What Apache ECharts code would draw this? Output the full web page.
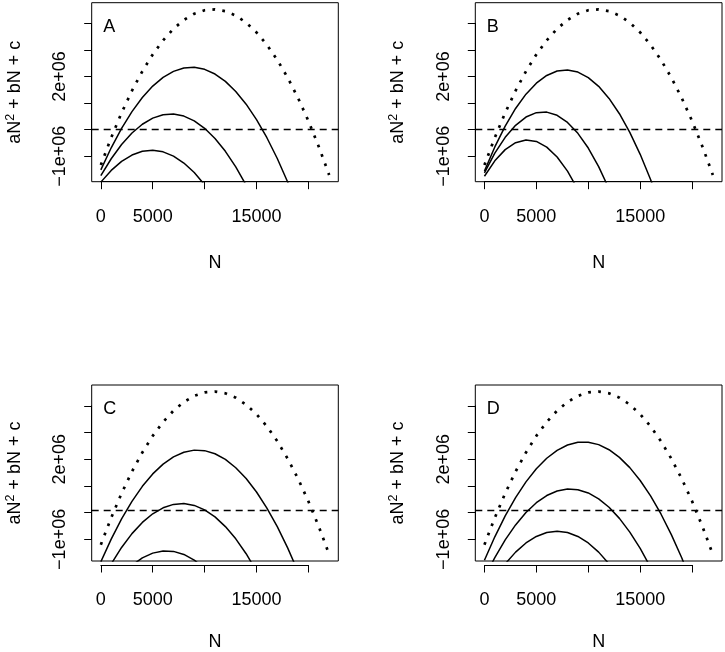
<!DOCTYPE html>
<html>
<head>
<meta charset="utf-8">
<script src="https://cdn.jsdelivr.net/npm/echarts@6/dist/echarts.min.js"></script>
<style>html,body{margin:0;padding:0;background:#fff}#c{width:725px;height:652px}</style>
</head>
<body>
<div id="c"></div>
<script>
// ---- data ----
const N = [0,1000,2000,3000,4000,5000,6000,7000,8000,9000,10000,11000,12000,13000,14000,15000,16000,17000,18000,19000,20000,21000,22000];

// upper dotted curve (same in every panel)
const upper = [-1.334e6,-0.301e6,0.632e6,1.465e6,2.198e6,2.831e6,3.364e6,3.797e6,4.130e6,4.363e6,4.496e6,4.529e6,4.462e6,4.295e6,4.028e6,3.661e6,3.194e6,2.627e6,1.960e6,1.193e6,0.326e6,-0.641e6,-1.708e6];

// panel A
const A_high = [-1.516e6,-0.683e6,0.049e6,0.680e6,1.211e6,1.640e6,1.968e6,2.195e6,2.322e6,2.347e6,2.271e6,2.094e6,1.817e6,1.438e6,0.958e6,0.377e6,-0.304e6,-1.087e6,-1.971e6,-2.956e6,null,null,null];
const A_mid  = [-1.734e6,-1.096e6,-0.561e6,-0.127e6,0.204e6,0.434e6,0.561e6,0.587e6,0.510e6,0.332e6,0.051e6,-0.331e6,-0.816e6,-1.402e6,-2.091e6,-2.881e6,null,null,null,null,null,null,null];
const A_low  = [-1.976e6,-1.536e6,-1.196e6,-0.956e6,-0.816e6,-0.776e6,-0.836e6,-0.996e6,-1.256e6,-1.616e6,-2.076e6,-2.636e6,null,null,null,null,null,null,null,null,null,null,null];

// panel B
const B_high = [-1.561e6,-0.651e6,0.135e6,0.798e6,1.336e6,1.750e6,2.040e6,2.206e6,2.248e6,2.167e6,1.961e6,1.631e6,1.177e6,0.599e6,-0.103e6,-0.929e6,-1.878e6,-2.952e6,null,null,null,null,null];
const B_mid  = [-1.628e6,-0.887e6,-0.289e6,0.164e6,0.474e6,0.640e6,0.661e6,0.539e6,0.272e6,-0.138e6,-0.692e6,-1.391e6,-2.233e6,-3.219e6,null,null,null,null,null,null,null,null,null];
const B_low  = [-1.754e6,-1.174e6,-0.752e6,-0.490e6,-0.387e6,-0.442e6,-0.657e6,-1.031e6,-1.563e6,-2.255e6,-3.106e6,null,null,null,null,null,null,null,null,null,null,null,null];

// panel C
const C_high = [-1.991e6,-1.120e6,-0.348e6,0.325e6,0.900e6,1.375e6,1.751e6,2.028e6,2.206e6,2.286e6,2.266e6,2.147e6,1.929e6,1.612e6,1.197e6,0.682e6,0.068e6,-0.645e6,-1.457e6,-2.367e6,null,null,null];
const C_mid  = [-2.802e6,-2.072e6,-1.442e6,-0.912e6,-0.482e6,-0.152e6,0.078e6,0.208e6,0.238e6,0.168e6,-0.002e6,-0.272e6,-0.642e6,-1.112e6,-1.682e6,-2.352e6,-3.122e6,null,null,null,null,null,null];
const C_low  = [null,null,-2.507e6,-2.124e6,-1.841e6,-1.658e6,-1.575e6,-1.592e6,-1.709e6,-1.926e6,-2.243e6,-2.660e6,null,null,null,null,null,null,null,null,null,null,null];

// panel D
const D_high = [-1.933e6,-1.033e6,-0.233e6,0.468e6,1.069e6,1.571e6,1.974e6,2.277e6,2.481e6,2.585e6,2.590e6,2.496e6,2.302e6,2.008e6,1.616e6,1.124e6,0.532e6,-0.159e6,-0.949e6,-1.838e6,-2.827e6,null,null];
const D_mid  = [-2.603e6,-1.828e6,-1.153e6,-0.578e6,-0.103e6,0.272e6,0.547e6,0.722e6,0.797e6,0.772e6,0.647e6,0.422e6,0.097e6,-0.328e6,-0.853e6,-1.478e6,-2.203e6,-3.028e6,null,null,null,null,null];
const D_low  = [null,-2.620e6,-2.070e6,-1.620e6,-1.270e6,-1.020e6,-0.870e6,-0.820e6,-0.870e6,-1.020e6,-1.270e6,-1.620e6,-2.070e6,-2.620e6,null,null,null,null,null,null,null,null,null];

const panelLetters = ['A','B','C','D'];
const xTicks = [0,5000,10000,15000,20000];
const xTickLabels = ['0','5000','','15000',''];
const yTicks = [-1e6,0,1e6,2e6,3e6,4e6];
const yTickLabels = ['\u22121e+06','','','2e+06','',''];
const refLine = [0];

// ---- layout / style ----
const FONT = 'Liberation Sans';
const FS = 18;
const xMin = -880, xMax = 22880, yMin = -1.96e6, yMax = 4.78e6;
const boxes = [
  {l:91.7, t:2.7, w:246.6, h:179},
  {l:475.3, t:2.7, w:246.7, h:179},
  {l:91.7, t:385, w:246.6, h:180},
  {l:475.3, t:385, w:246.7, h:180}
];
const panels = [
  [A_high, A_mid, A_low],
  [B_high, B_mid, B_low],
  [C_high, C_mid, C_low],
  [D_high, D_mid, D_low]
];

function pairs(arr){ return N.map((n,i)=>[n, arr[i]==null ? '-' : arr[i]]); }

const grid=[], xAxis=[], yAxis=[], series=[], title=[];
const txt = {color:'#000', fontFamily:FONT, fontSize:FS};

boxes.forEach((b,p)=>{
  const gBase = grid.length;
  // main box
  grid.push({left:b.l, top:b.t, width:b.w, height:b.h, show:true, borderColor:'#000', borderWidth:1, backgroundColor:'transparent', containLabel:false});
  xAxis.push({gridIndex:gBase, type:'value', min:xMin, max:xMax, axisLine:{show:false}, axisTick:{show:false}, axisLabel:{show:false}, splitLine:{show:false},
    name:'N', nameLocation:'middle', nameGap:72, nameTextStyle:txt});
  yAxis.push({gridIndex:gBase, type:'value', min:yMin, max:yMax, axisLine:{show:false}, axisTick:{show:false}, axisLabel:{show:false}, splitLine:{show:false},
    name:'aN{sup|2} + bN + c', nameLocation:'middle', nameGap:66, nameRotate:90,
    nameTextStyle:Object.assign({}, txt, {lineHeight:22, rich:{sup:{fontFamily:FONT, fontSize:12.5, lineHeight:12, verticalAlign:'top', color:'#000'}}})});
  // x tick axis
  const xl = b.l + (xTicks[0]-xMin)/(xMax-xMin)*b.w;
  const xw = (xTicks[xTicks.length-1]-xTicks[0])/(xMax-xMin)*b.w;
  grid.push({left:xl, top:b.t, width:xw, height:b.h, show:false});
  xAxis.push({gridIndex:gBase+1, type:'value', min:xTicks[0], max:xTicks[xTicks.length-1], interval:5000, position:'bottom', offset:11.5,
    axisLine:{show:true, lineStyle:{color:'#000', width:1}}, axisTick:{show:true, inside:false, length:7.5, lineStyle:{color:'#000', width:1}},
    splitLine:{show:false},
    axisLabel:Object.assign({}, txt, {margin:15, formatter:v=>{const i=xTicks.indexOf(v); return i>=0?xTickLabels[i]:'';}})});
  yAxis.push({gridIndex:gBase+1, type:'value', show:false});
  // y tick axis
  const yt = b.t + (yMax-yTicks[yTicks.length-1])/(yMax-yMin)*b.h;
  const yh = (yTicks[yTicks.length-1]-yTicks[0])/(yMax-yMin)*b.h;
  grid.push({left:b.l, top:yt, width:b.w, height:yh, show:false});
  xAxis.push({gridIndex:gBase+2, type:'value', show:false});
  yAxis.push({gridIndex:gBase+2, type:'value', min:yTicks[0], max:yTicks[yTicks.length-1], interval:1e6, position:'left', offset:10.7,
    axisLine:{show:true, lineStyle:{color:'#000', width:1}}, axisTick:{show:true, inside:false, length:7.5, lineStyle:{color:'#000', width:1}},
    splitLine:{show:false},
    axisLabel:Object.assign({}, txt, {rotate:90, margin:12, formatter:v=>{const i=yTicks.indexOf(v); return i>=0?yTickLabels[i]:'';}})});

  // series
  series.push({type:'line', xAxisIndex:gBase, yAxisIndex:gBase, data:pairs(upper), showSymbol:false, symbol:'none', silent:true,
    lineStyle:{color:'#000', width:2.7, type:[2.7,7.3], cap:'butt'},
    markLine:{silent:true, symbol:['none','none'], label:{show:false}, data:refLine.map(v=>({yAxis:v})),
      lineStyle:{color:'#000', width:1.3, type:[7,5]}}});
  panels[p].forEach(arr=>{
    series.push({type:'line', xAxisIndex:gBase, yAxisIndex:gBase, data:pairs(arr), showSymbol:false, symbol:'none', silent:true,
      connectNulls:false, lineStyle:{color:'#000', width:1.5, type:'solid'}});
  });
  title.push({text:panelLetters[p], left:b.l+11.5, top:b.t+15, padding:0, textStyle:{color:'#000', fontFamily:FONT, fontSize:FS, fontWeight:'normal'}});
});

const chart = echarts.init(document.getElementById('c'), null, {renderer:'canvas'});
chart.setOption({backgroundColor:'#fff', animation:false, title, grid, xAxis, yAxis, series});
</script>
</body>
</html>
